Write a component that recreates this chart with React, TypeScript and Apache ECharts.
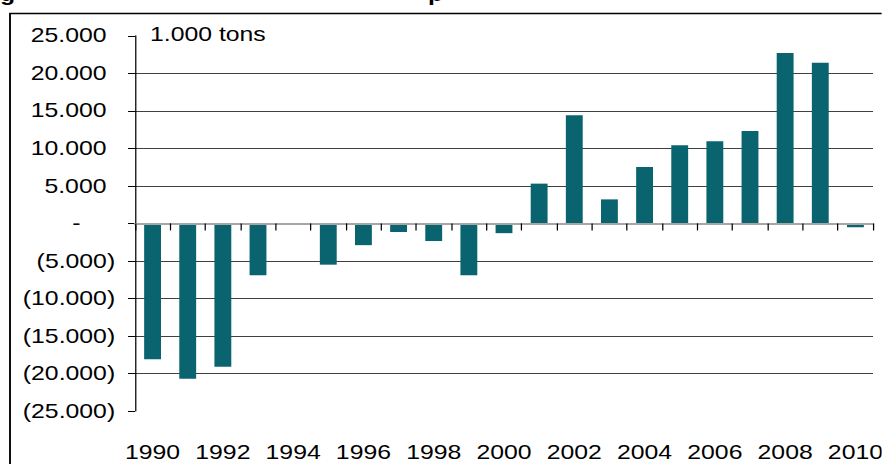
import React, { useEffect, useRef } from 'react';
import * as echarts from 'echarts';

const years = [
  '1990', '1991', '1992', '1993', '1994', '1995', '1996', '1997', '1998', '1999', '2000',
  '2001', '2002', '2003', '2004', '2005', '2006', '2007', '2008', '2009', '2010',
];
const netImport = [
  -18100, -20700, -19100, -6900, 0, -5500, -2900, -1150, -2350, -6900, -1300,
  5300, 14400, 3200, 7500, 10400, 10950, 12300, 22700, 21400, -500,
];
const yMin = -25000;
const yMax = 25000;
const yStep = 5000;
const unitLabel = '1.000 tons';

const STRETCH = 1.24;
const W = 882;
const H = 464;
const IW = W / STRETCH;
const FONT = "'Liberation Sans', Arial, Helvetica, sans-serif";

const fmt = (v: number) => String(Math.abs(v)).replace(/\B(?=(\d{3})+(?!\d))/g, '.');

export default function App() {
  const ref = useRef<HTMLDivElement>(null);
  useEffect(() => {
    const chart = echarts.init(ref.current!, null, { renderer: 'svg', width: IW, height: H });
    const txt = { fontSize: 20, fontFamily: FONT, color: '#000' };
    chart.setOption({
      animation: false,
      backgroundColor: '#fff',
      grid: {
        left: 135 / STRETCH,
        right: IW - 873 / STRETCH,
        top: 35.8,
        bottom: H - 411,
        containLabel: false,
        outerBoundsMode: 'none',
      },
      xAxis: [
        {
          type: 'category',
          data: years,
          z: 5,
          axisLine: { show: true, onZero: true, lineStyle: { color: '#a6a6a6', width: 2 } },
          axisTick: { show: true, interval: 0, length: 7, lineStyle: { color: '#000', width: 1 } },
          axisLabel: { show: false },
          splitLine: { show: false },
        },
        {
          type: 'category',
          data: years,
          position: 'bottom',
          axisLine: { show: false, onZero: false },
          axisTick: { show: false },
          axisLabel: { show: true, interval: 1, margin: 31, ...txt },
          splitLine: { show: false },
        },
      ],
      yAxis: {
        type: 'value',
        min: yMin,
        max: yMax,
        interval: yStep,
        axisLine: { show: true, lineStyle: { color: '#000', width: 1 } },
        axisTick: { show: true, length: 7 / STRETCH, lineStyle: { color: '#000', width: 1 } },
        splitLine: {
          show: true,
          showMinLine: false,
          showMaxLine: false,
          lineStyle: { color: '#404040', width: 1 },
        },
        axisLabel: {
          margin: 16,
          ...txt,
          formatter: (v: number) =>
            v === 0 ? '{z|-}' : v < 0 ? '{n|(' + fmt(v) + ')}' : '{p|' + fmt(v) + '}',
          rich: {
            z: { ...txt, padding: [0, 28, 0, 0] },
            n: { ...txt },
            p: { ...txt, padding: [0, 7, 0, 0] },
          },
        },
      },
      series: [
        {
          type: 'bar',
          xAxisIndex: 0,
          data: netImport,
          barWidth: '48%',
          itemStyle: { color: '#0a6470' },
        },
      ],
      graphic: [
        {
          type: 'rect',
          silent: true,
          shape: { x: 10 / STRETCH, y: 13.5, width: 2000, height: 2000 },
          style: { fill: 'none', stroke: '#000', lineWidth: 1.5 },
          z: 10,
        },
        {
          type: 'text',
          x: 150 / STRETCH,
          y: 34.5,
          style: { text: unitLabel, fontSize: 20, fontFamily: FONT, fill: '#000', verticalAlign: 'middle', align: 'left' },
        },
        {
          type: 'text',
          x: 0,
          y: -6,
          style: { text: 'g', fontSize: 20, fontWeight: 'bold', fontFamily: FONT, fill: '#000', verticalAlign: 'middle', align: 'left' },
        },
        {
          type: 'text',
          x: 428 / STRETCH,
          y: -6,
          style: { text: 'p', fontSize: 20, fontWeight: 'bold', fontFamily: FONT, fill: '#000', verticalAlign: 'middle', align: 'left' },
        },
      ],
    });
    return () => chart.dispose();
  }, []);
  return (
    <div style={{ position: 'absolute', left: 0, top: 0, width: W, height: H, overflow: 'hidden', background: '#fff' }}>
      <div
        ref={ref}
        style={{ width: IW, height: H, transform: `scaleX(${STRETCH})`, transformOrigin: '0 0' }}
      />
    </div>
  );
}
